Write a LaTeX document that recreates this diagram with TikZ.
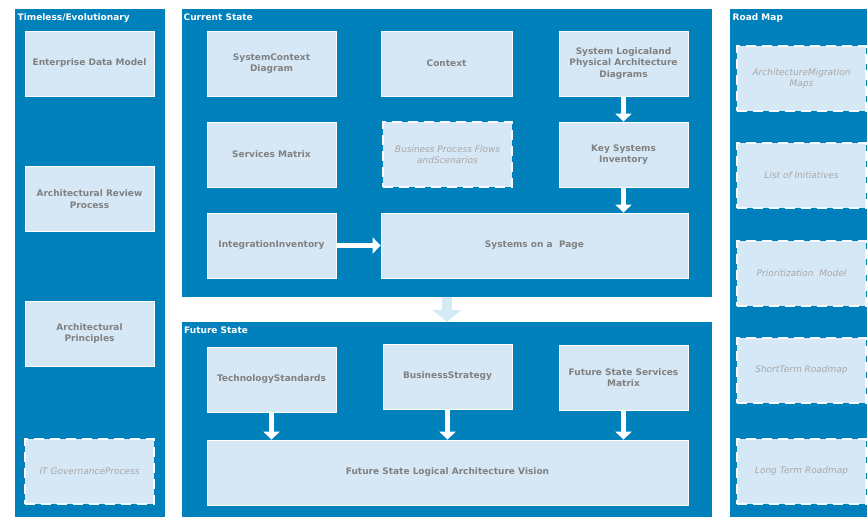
\documentclass[tikz,border=0pt]{standalone}
\usepackage{fontspec}
\setmainfont{DejaVu Sans}
\usetikzlibrary{arrows.meta}

\definecolor{panelblue}{RGB}{0,129,188}
\definecolor{cellfill}{RGB}{214,232,246}
\definecolor{labelgrey}{RGB}{128,128,128}
\definecolor{softgrey}{RGB}{168,168,168}
\definecolor{paleblue}{RGB}{212,234,245}

\tikzset{
  panel/.style={fill=panelblue, draw=none, inner sep=0pt},
  paneltitle/.style={anchor=base west, inner sep=0pt, text=white,
    font=\bfseries\fontsize{9}{11}\selectfont},
  cell/.style={fill=cellfill, draw=white, line width=0.8pt,
    minimum width=129pt, minimum height=65pt, inner sep=2pt, align=center,
    text=labelgrey, font=\bfseries\fontsize{9}{11.5}\selectfont},
  plancell/.style={cell, draw=white!85!cellfill, line width=1.2pt,
    dash pattern=on 10pt off 6pt,
    text=softgrey, font=\itshape\fontsize{9}{11.5}\selectfont},
  flow/.style={draw=white, line width=5.5pt,
    -{Triangle[width=16pt,length=8pt]}},
  bigflow/.style={draw=paleblue, line width=10pt,
    -{Triangle[width=29pt,length=12pt]}}
}

\begin{document}
\begin{tikzpicture}[x=1pt, y=-1pt]
\useasboundingbox (0,0) rectangle (867,517);

% ---- panels (x: left..right, y: top..bottom) ----
\node[panel, minimum width=150pt, minimum height=508pt] (tl)  at (90,263) {};
\node[panel, minimum width=530pt, minimum height=288pt] (cur) at (447,153) {};
\node[panel, minimum width=530pt, minimum height=195pt] (fut) at (447,419.5) {};
\node[panel, minimum width=137pt, minimum height=508pt] (rm)  at (798.5,263) {};

\node[paneltitle] (tlt)  at ([xshift=2.7pt,yshift=-12pt]tl.north west)  {Timeless/Evolutionary};
\node[paneltitle] (curt) at ([xshift=1.7pt,yshift=-12pt]cur.north west) {Current State};
\node[paneltitle] (futt) at ([xshift=2.2pt,yshift=-12pt]fut.north west) {Future State};
\node[paneltitle] (rmt)  at ([xshift=2.7pt,yshift=-12pt]rm.north west)  {Road Map};

% ---- timeless / evolutionary ----
\node[cell] (edm) at (89.5,63.5)  {Enterprise Data Model};
\node[cell] (arp) at (89.5,199)   {Architectural Review\\Process};
\node[cell] (ap)  at (89.5,333.5) {Architectural\\Principles};
\node[plancell] (itg) at (89.5,471.5) {IT GovernanceProcess};

% ---- current state ----
\node[cell] (scd) at (271.5,63.5) {SystemContext\\Diagram};
\node[cell, minimum width=131pt] (ctx) at (446.5,63.5) {Context};
\node[cell] (slp) at (623.5,63.5) {System Logicaland\\Physical Architecture\\Diagrams};
\node[cell] (sm)  at (271.5,154.5) {Services Matrix};
\node[plancell] (bpf) at (447.5,154.5) {Business Process Flows\\andScenarios};
\node[cell] (ksi) at (623.5,154.5) {Key Systems\\Inventory};
\node[cell] (ii)  at (271.5,245.5) {IntegrationInventory};
\node[cell, minimum width=307pt] (sop) at (534.5,245.5) {Systems on a~~Page};

% ---- future state ----
\node[cell] (ts)   at (271.5,379.5) {TechnologyStandards};
\node[cell] (bs)   at (447.5,376.5) {BusinessStrategy};
\node[cell] (fssm) at (623.5,377.5) {Future State Services\\Matrix};
\node[cell, minimum width=481pt] (flav) at (447.5,472.5) {Future State Logical Architecture Vision};

% ---- road map ----
\node[plancell] (amm) at (801.5,78.5)  {ArchitectureMigration\\Maps};
\node[plancell] (loi) at (801.5,175.5) {List of Initiatives};
\node[plancell] (pm)  at (801.5,273.5) {Prioritization~~Model};
\node[plancell] (str) at (801.5,370.5) {ShortTerm Roadmap};
\node[plancell] (ltr) at (801.5,471.5) {Long Term Roadmap};

% ---- connectors ----
\draw[flow] (ii.east) -- (sop.west);
\draw[flow] (slp.south) -- (ksi.north);
\draw[flow] (ksi.south) -- (ksi.south |- sop.north);
\draw[bigflow] (cur.south) -- (fut.north);
\draw[flow] (ts.south) -- (ts.south |- flav.north);
\draw[flow] (bs.south) -- (bs.south |- flav.north);
\draw[flow] (fssm.south) -- (fssm.south |- flav.north);
\end{tikzpicture}
\end{document}
